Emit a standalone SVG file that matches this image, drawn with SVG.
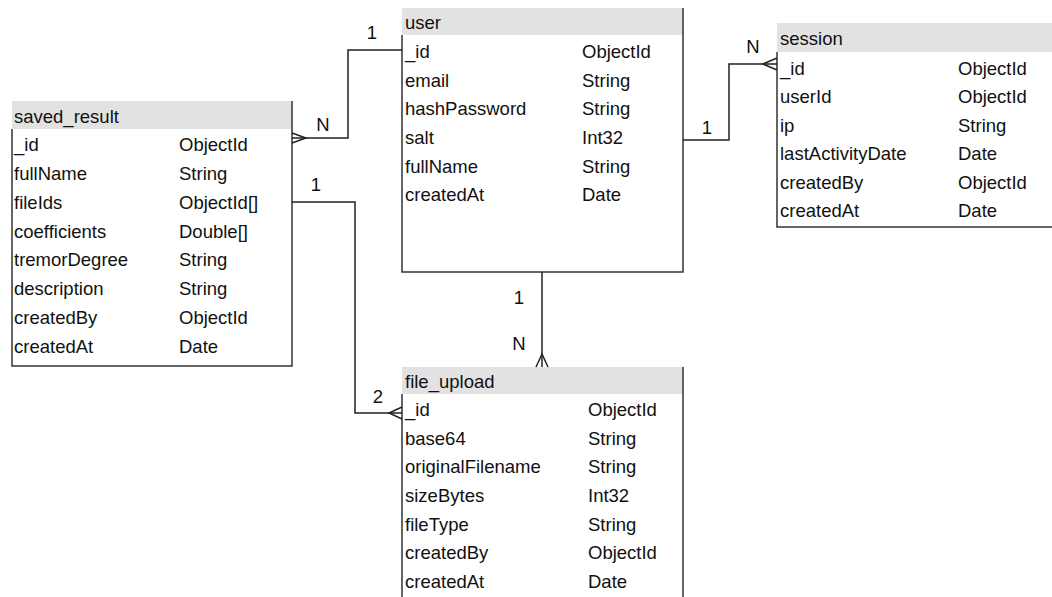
<svg xmlns="http://www.w3.org/2000/svg" width="1052" height="597" viewBox="0 0 1052 597">
<defs>
<style>
text{font-family:"Liberation Sans",Arial,sans-serif;font-size:18.5px;fill:#111}
.hdr{fill:#e2e2e2;stroke:none}
.bd{fill:none;stroke:#333;stroke-width:1.5}
.cn{fill:none;stroke:#222;stroke-width:1.5}
.lbl{text-anchor:middle}
</style>
</defs>
<rect width="1052" height="597" fill="#ffffff"/>
<g id="saved_result">
<rect class="hdr" x="12" y="101" width="280" height="28"/>
<path class="bd" d="M12,129 V366 H292 V101"/>
<text x="14" y="123">saved_result</text>
<text x="14" y="151">_id</text><text x="179" y="151">ObjectId</text>
<text x="14" y="180">fullName</text><text x="179" y="180">String</text>
<text x="14" y="209">fileIds</text><text x="179" y="209">ObjectId[]</text>
<text x="14" y="238">coefficients</text><text x="179" y="238">Double[]</text>
<text x="14" y="266">tremorDegree</text><text x="179" y="266">String</text>
<text x="14" y="295">description</text><text x="179" y="295">String</text>
<text x="14" y="324">createdBy</text><text x="179" y="324">ObjectId</text>
<text x="14" y="353">createdAt</text><text x="179" y="353">Date</text>
</g>
<g id="user">
<rect class="hdr" x="402" y="8" width="281" height="27"/>
<path class="bd" d="M402,35 V272 H683 V8"/>
<text x="405" y="29">user</text>
<text x="405" y="58">_id</text><text x="582" y="58">ObjectId</text>
<text x="405" y="87">email</text><text x="582" y="87">String</text>
<text x="405" y="115">hashPassword</text><text x="582" y="115">String</text>
<text x="405" y="144">salt</text><text x="582" y="144">Int32</text>
<text x="405" y="173">fullName</text><text x="582" y="173">String</text>
<text x="405" y="201">createdAt</text><text x="582" y="201">Date</text>
</g>
<g id="session">
<rect class="hdr" x="777" y="23" width="275" height="29"/>
<path class="bd" d="M777,52 V227 H1052"/>
<text x="780" y="45">session</text>
<text x="780" y="75">_id</text><text x="958" y="75">ObjectId</text>
<text x="780" y="103">userId</text><text x="958" y="103">ObjectId</text>
<text x="780" y="132">ip</text><text x="958" y="132">String</text>
<text x="780" y="160">lastActivityDate</text><text x="958" y="160">Date</text>
<text x="780" y="189">createdBy</text><text x="958" y="189">ObjectId</text>
<text x="780" y="217">createdAt</text><text x="958" y="217">Date</text>
</g>
<g id="file_upload">
<rect class="hdr" x="402" y="367" width="281" height="27"/>
<path class="bd" d="M402,394 V597 M683,597 V367"/>
<text x="405" y="388">file_upload</text>
<text x="405" y="416">_id</text><text x="588" y="416">ObjectId</text>
<text x="405" y="445">base64</text><text x="588" y="445">String</text>
<text x="405" y="473">originalFilename</text><text x="588" y="473">String</text>
<text x="405" y="502">sizeBytes</text><text x="588" y="502">Int32</text>
<text x="405" y="531">fileType</text><text x="588" y="531">String</text>
<text x="405" y="559">createdBy</text><text x="588" y="559">ObjectId</text>
<text x="405" y="588">createdAt</text><text x="588" y="588">Date</text>
</g>
<g id="connectors">
<path class="cn" d="M402,50 H348 V138 H292"/>
<path class="cn" d="M292,133 L306,138 L292,143"/>
<path class="cn" d="M292,202 H355 V413 H402"/>
<path class="cn" d="M402,407 L389,413 L402,419"/>
<path class="cn" d="M542,272 V367"/>
<path class="cn" d="M536,367 L542,354 L548,367"/>
<path class="cn" d="M683,140 H729 V64 H777"/>
<path class="cn" d="M777,58 L763,64 L777,70"/>
<text class="lbl" x="372" y="39">1</text>
<text class="lbl" x="323" y="131">N</text>
<text class="lbl" x="316" y="191">1</text>
<text class="lbl" x="378" y="403">2</text>
<text class="lbl" x="519" y="304">1</text>
<text class="lbl" x="519" y="350">N</text>
<text class="lbl" x="707" y="134">1</text>
<text class="lbl" x="753" y="53">N</text>
</g>
</svg>
